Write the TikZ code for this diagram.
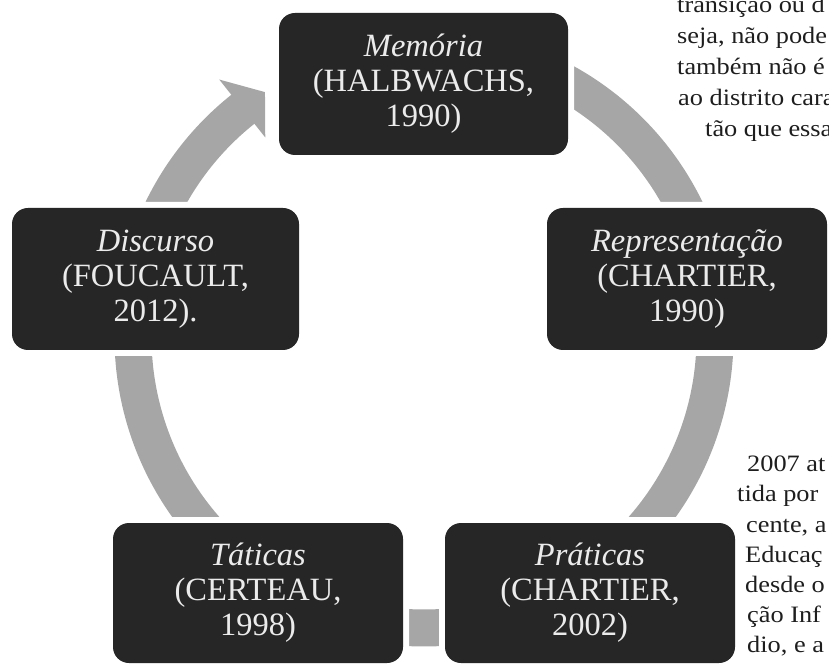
\documentclass[tikz,border=0pt]{standalone}
\usepackage{fontspec}
\newfontfamily\boxfont{Liberation Serif}
\newfontfamily\pagefont{Liberation Serif}[FakeStretch=1.12]
\definecolor{boxfill}{HTML}{262626}
\definecolor{boxink}{HTML}{EBEBEB}
\definecolor{ringgray}{HTML}{A6A6A6}
\definecolor{pageink}{HTML}{1E1E1E}
\tikzset{
  stage/.style={fill=boxfill,rounded corners=16pt,minimum width=288pt,minimum height=142pt,
    inner sep=0pt,align=center,text=boxink,font=\boxfont\fontsize{32.5}{35}\selectfont,
    preaction={draw=white,line width=12pt}},
  ring/.style={draw=ringgray,line width=37pt},
  pagetxt/.style={anchor=base west,inner sep=0pt,text=pageink,font=\pagefont\fontsize{23.5}{30}\selectfont}
}

\begin{document}
\begin{tikzpicture}[x=1pt,y=1pt]
\path[use as bounding box](0,0) rectangle (829,664);
\clip(0,0) rectangle (829,664);
\coordinate (ctr) at (424,327);
% ring
\draw[ring](ctr) ++(80:291pt) arc[start angle=80,end angle=20,radius=291pt];
\draw[ring](ctr) ++(5:291pt) arc[start angle=5,end angle=-50,radius=291pt];
\draw[ring](ctr) ++(-64:291pt) arc[start angle=-64,end angle=-116,radius=291pt];
\draw[ring](ctr) ++(-130:291pt) arc[start angle=-130,end angle=-200,radius=291pt];
\draw[ring](ctr) ++(175:291pt) arc[start angle=175,end angle=128.2,radius=291pt];
\fill[ringgray]([shift={(128.5:255pt)}]ctr)--([shift={(128.5:329pt)}]ctr)--([shift={(123:292pt)}]ctr)--cycle;
% stages
\node[stage,minimum width=289pt] (mem) at (423.5,580) {\textit{Memória}\\(HALBWACHS,\\1990)};
\node[stage,minimum width=280pt] (rep) at (687,385) {\textit{Representação}\\(CHARTIER,\\1990)};
\node[stage,minimum width=290pt,minimum height=140pt] (pra) at (590,71) {\textit{Práticas}\\(CHARTIER,\\2002)};
\node[stage,minimum width=290pt,minimum height=140pt] (tat) at (258,71) {\textit{Táticas}\\(CERTEAU,\\1998)};
\node[stage,minimum width=287pt] (dis) at (155.5,385) {\textit{Discurso}\\(FOUCAULT,\\2012).};
% page text
\node[pagetxt] (t1) at (677,651.5) {transição ou d};
\node[pagetxt] (t2) at (677,620.5) {seja, não pode};
\node[pagetxt] (t3) at (677,589.5) {também não é};
\node[pagetxt] (t4) at (678,558.5) {ao distrito cara};
\node[pagetxt] (t5) at (705,527.5) {tão que essa};
\node[pagetxt] (b1) at (747,193) {2007 at};
\node[pagetxt] (b2) at (737,163) {tida por};
\node[pagetxt] (b3) at (746,132) {cente, a};
\node[pagetxt] (b4) at (745,102) {Educaç};
\node[pagetxt] (b5) at (745,72) {desde o};
\node[pagetxt] (b6) at (747,42) {ção Inf};
\node[pagetxt] (b7) at (747,12) {dio, e a};
\end{tikzpicture}
\end{document}
